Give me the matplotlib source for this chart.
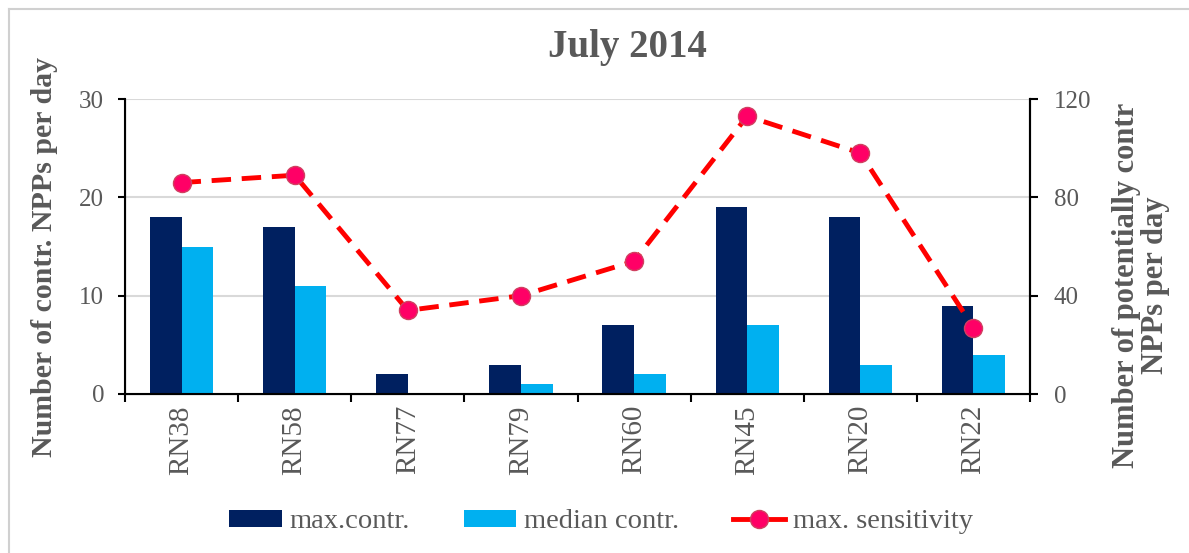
import numpy as np
import matplotlib.pyplot as plt
from matplotlib.lines import Line2D

# Data
stations = ["RN38", "RN58", "RN77", "RN79", "RN60", "RN45", "RN20", "RN22"]
max_contr = [18, 17, 2, 3, 7, 19, 18, 9]
median_contr = [15, 11, 0, 1, 2, 7, 3, 4]
max_sensitivity = [86, 89, 34, 40, 54, 113, 98, 27]

gray = "#595959"
plt.rcParams["font.family"] = ["Liberation Serif", "DejaVu Serif"]

W, H = 1189, 553
fig = plt.figure(figsize=(W / 100, H / 100), dpi=100)
ax = fig.add_axes([125 / W, 1 - 394 / H, (1030 - 125) / W, (394 - 99) / H])

x = np.arange(len(stations))
w = 0.28
b1 = ax.bar(x - w / 2, max_contr, w, color="#002060", label="max.contr.", zorder=2)
b2 = ax.bar(x + w / 2, median_contr, w, color="#00B0F0", label="median contr.", zorder=2)

ax.set_xlim(-0.5, len(stations) - 0.5)
ax.set_ylim(0, 30)
ax.set_yticks([0, 10, 20, 30])
ax.grid(axis="y", color="#d9d9d9", linewidth=1.5, zorder=0)
ax.set_axisbelow(True)

# category separators as major ticks, names as minor tick labels
ax.set_xticks(np.arange(len(stations) + 1) - 0.5)
ax.set_xticklabels([])
ax.set_xticks(x, minor=True)
ax.set_xticklabels(stations, minor=True, rotation=90, fontsize=21, color=gray)
ax.tick_params(axis="x", which="minor", length=0, pad=8)
ax.tick_params(axis="x", which="major", length=6, width=1.5)
ax.tick_params(axis="y", length=5, width=1.5, pad=10, labelsize=18, labelcolor=gray)

ax.spines["top"].set_visible(False)
for s in ["left", "bottom", "right"]:
    ax.spines[s].set_linewidth(1.5)

ax2 = ax.twinx()
ax2.set_ylim(0, 120)
ax2.set_yticks([0, 40, 80, 120])
ax2.tick_params(axis="y", length=6, width=1.5, pad=11, labelsize=18, labelcolor=gray)
ax2.spines["top"].set_visible(False)
ax2.spines["right"].set_linewidth(1.5)
ax2.plot(x, max_sensitivity, color="#FF0000", linewidth=3.5, linestyle=(0, (4, 2.2)),
         marker="o", markersize=13, markerfacecolor="#FF0066",
         markeredgecolor="#D04060", markeredgewidth=1, zorder=3)

# axis titles
fig.text(45 / W, 1 - 257 / H, "Number of contr. NPPs per day", rotation=90,
         ha="center", va="center", fontsize=21.5, fontweight="bold", color=gray)
fig.text(1141 / W, 1 - 285 / H, "Number of potentially contr\nNPPs per day",
         rotation=90, ha="center", va="center", multialignment="center",
         fontsize=22, fontweight="bold", color=gray, linespacing=1.0)

fig.text(627 / W, 1 - 48 / H, "July 2014", ha="center", va="center",
         fontsize=28, fontweight="bold", color=gray)

handles = [b1, b2,
           Line2D([], [], color="#FF0000", linewidth=3.5, marker="o", markersize=13,
                  markerfacecolor="#FF0066", markeredgecolor="#D04060")]
labels = ["max.contr.", "median contr.", "max. sensitivity"]
fig.legend(handles, labels, loc="center", bbox_to_anchor=(601 / W, 1 - 522 / H),
           ncol=3, frameon=False, fontsize=20.5, labelcolor=gray,
           handlelength=1.85, handleheight=0.55, columnspacing=1.9, handletextpad=0.25)

# light outer frame
fig.add_artist(Line2D([9 / W, 9 / W], [0, 1 - 9 / H], color="#d0d0d0",
                      linewidth=1.5, transform=fig.transFigure))
fig.add_artist(Line2D([9 / W, 1], [1 - 9 / H, 1 - 9 / H], color="#d0d0d0",
                      linewidth=1.5, transform=fig.transFigure))

fig.savefig("out.png", dpi=100)
